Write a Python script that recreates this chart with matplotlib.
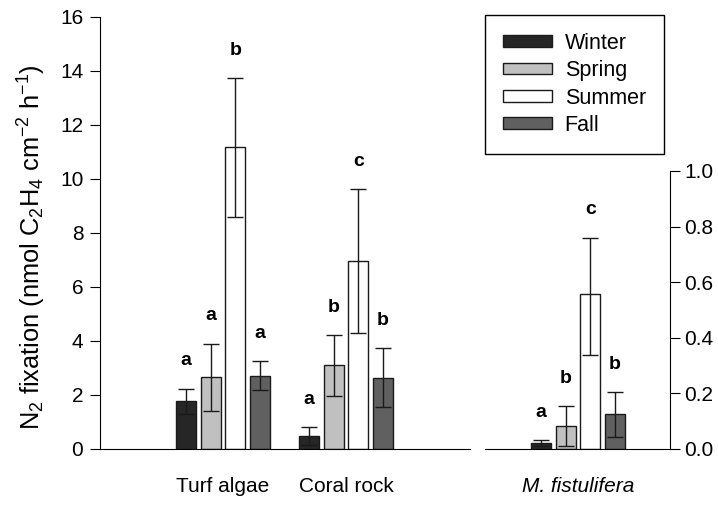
import numpy as np
import matplotlib.pyplot as plt

plt.rcParams['font.family'] = ['Liberation Sans', 'DejaVu Sans']
plt.rcParams['mathtext.default'] = 'regular'

seasons = ['Winter', 'Spring', 'Summer', 'Fall']
colors = ['#262626', '#c0c0c0', '#ffffff', '#606060']

# left panel (turf algae, coral rock)
groups = ['Turf algae', 'Coral rock']
means = np.array([[1.76, 0.48],
                  [2.67, 3.10],
                  [11.18, 6.96],
                  [2.71, 2.63]])
err_hi = np.array([[2.24, 0.81],
                   [3.90, 4.22],
                   [13.73, 9.62],
                   [3.25, 3.73]])
err_lo = np.array([[1.30, 0.14],
                   [1.41, 1.97],
                   [8.61, 4.29],
                   [2.18, 1.55]])
letters = [['a', 'a'], ['a', 'b'], ['b', 'c'], ['a', 'b']]

# right panel (M. fistulifera)
coral_mean = [0.022, 0.082, 0.557, 0.126]
coral_hi = [0.032, 0.155, 0.76, 0.205]
coral_lo = [0.012, 0.01, 0.338, 0.043]
coral_letters = ['a', 'b', 'c', 'b']

offsets = [-0.3, -0.1, 0.1, 0.3]
width = 0.163

fig = plt.figure(figsize=(7.18, 5.13), dpi=100)
ax = fig.add_axes([100/718, 64/513, 370/718, 432/513])
ax2 = fig.add_axes([485/718, 64/513, 185/718, 432/513])

x = np.arange(len(groups))
for i, s in enumerate(seasons):
    xs = x + offsets[i]
    ax.bar(xs, means[i], width, color=colors[i], edgecolor='#1a1a1a', linewidth=1, label=s, zorder=2)
    yerr = [means[i] - err_lo[i], err_hi[i] - means[i]]
    ax.errorbar(xs, means[i], yerr=yerr, fmt='none', ecolor='#1a1a1a', elinewidth=1, capsize=6, capthick=1, zorder=3)
    for j in range(len(groups)):
        ax.annotate(letters[i][j], (xs[j], err_hi[i][j]), xytext=(0, 20), textcoords='offset points',
                    ha='center', va='center', fontsize=14, fontweight='bold')

    ax2.bar(offsets[i], coral_mean[i], width, color=colors[i], edgecolor='#1a1a1a', linewidth=1, zorder=2)
    ax2.errorbar(offsets[i], coral_mean[i], yerr=[[coral_mean[i] - coral_lo[i]], [coral_hi[i] - coral_mean[i]]],
                 fmt='none', ecolor='#1a1a1a', elinewidth=1, capsize=6, capthick=1, zorder=3)
    ax2.annotate(coral_letters[i], (offsets[i], coral_hi[i]), xytext=(0, 20), textcoords='offset points',
                 ha='center', va='center', fontsize=14, fontweight='bold')

ax.set_xlim(-1, 2.008)
ax.set_ylim(0, 16)
ax.set_yticks(np.arange(0, 17, 2))
ax.set_xticks(x)
ax.set_xticklabels(groups, fontsize=15)
ax.tick_params(axis='x', length=0, pad=20)
ax.tick_params(axis='y', direction='out', length=7, labelsize=15, pad=5)
ax.spines['top'].set_visible(False)
ax.spines['right'].set_visible(False)
ax.set_ylabel('N$_2$ fixation (nmol C$_2$H$_4$ cm$^{-2}$ h$^{-1}$)', fontsize=18.3)
ax.yaxis.set_label_coords(-0.14, 0.468)

ax2.set_xlim(-0.756, 0.748)
ax2.set_ylim(0, 432/278)
ax2.set_yticks(np.arange(0, 1.01, 0.2))
ax2.yaxis.set_major_formatter(plt.FormatStrFormatter('%.1f'))
ax2.yaxis.tick_right()
ax2.spines['top'].set_visible(False)
ax2.spines['left'].set_visible(False)
ax2.spines['right'].set_bounds(0, 1)
ax2.set_xticks([0])
ax2.set_xticklabels(['M. fistulifera'], fontsize=15, style='italic')
ax2.tick_params(axis='x', length=0, pad=20)
ax2.tick_params(axis='y', direction='out', length=7, labelsize=15, pad=3)

handles, labels = ax.get_legend_handles_labels()
fig.legend(handles, labels, loc='upper left', bbox_to_anchor=(485/718, 1 - 15/513), fontsize=15.5,
           frameon=True, fancybox=False, edgecolor='black', framealpha=1,
           handlelength=2.28, handleheight=0.47, handletextpad=0.6, labelspacing=0.3,
           borderpad=0.82, borderaxespad=0)

fig.savefig('out.png', dpi=100)
